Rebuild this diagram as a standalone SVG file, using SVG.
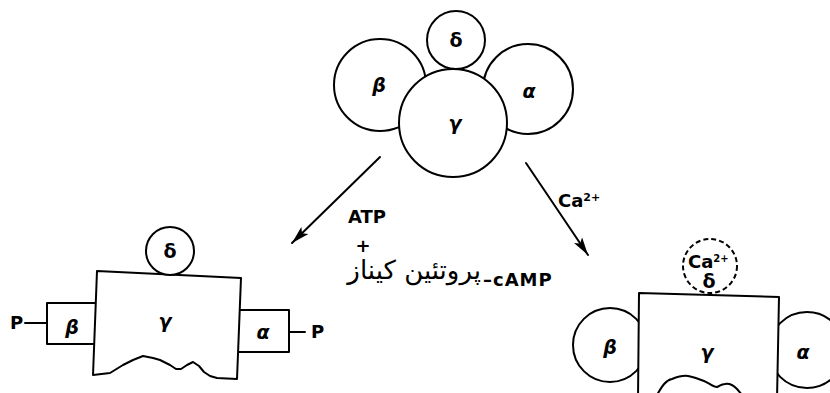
<svg xmlns="http://www.w3.org/2000/svg" width="830" height="393" viewBox="0 0 830 393">
<style>
.s{fill:#fff;stroke:#000;stroke-width:2;stroke-linejoin:round}
.w{fill:none;stroke:#000;stroke-width:2;stroke-linejoin:round;stroke-linecap:round}
.g{font-family:"DejaVu Sans",sans-serif;font-size:19px;font-weight:bold;fill:#000;text-anchor:middle}
.i{font-style:italic}
.t{font-family:"DejaVu Sans",sans-serif;font-size:18px;font-weight:bold;fill:#000}
.fa{font-family:"DejaVu Sans",sans-serif;font-size:26px;fill:#000}
</style>
<defs>
<marker id="ah" viewBox="0 0 18 10" refX="18" refY="5" markerWidth="18" markerHeight="10" markerUnits="userSpaceOnUse" orient="auto">
<path d="M0,0 L18,5 L0,10 L4,5 Z" fill="#000"/>
</marker>
</defs>

<g id="native-enzyme">
<circle class="s" cx="380" cy="85" r="46"/>
<circle class="s" cx="528" cy="89" r="45"/>
<circle class="s" cx="456" cy="40" r="29"/>
<circle class="s" cx="453" cy="123" r="54"/>
<text class="g" x="456" y="47">δ</text>
<text class="g i" x="379" y="92">β</text>
<text class="g i" x="529" y="98">α</text>
<text class="g i" x="455" y="130">γ</text>
</g>

<g id="connectors">
<line class="w" x1="380" y1="157" x2="292" y2="243" marker-end="url(#ah)"/>
<line class="w" x1="526" y1="163" x2="588" y2="255" marker-end="url(#ah)"/>
</g>

<g id="label-atp">
<text class="t" x="367" y="223" text-anchor="middle">ATP</text>
<text class="t" x="363" y="252" text-anchor="middle">+</text>
<text class="fa" x="481" y="279" text-anchor="end">پروتئین کیناز</text>
<text class="t" x="483" y="286" letter-spacing="1">–cAMP</text>
</g>

<g id="label-ca">
<text class="t" x="558" y="207" font-size="17">Ca<tspan dy="-6" font-size="11">2+</tspan></text>
</g>

<g id="phosphorylated-enzyme">
<rect class="s" x="47" y="303" width="50" height="41"/>
<rect class="s" x="238" y="310" width="51" height="42"/>
<path class="s" d="M97,271 L241,278 L237,379 L217,378 L210,376 L204,372 L199,366 L193,362 L187,365 L181,369 L176,369 L170,365 L160,360 L153,358 L143,356 L133,360 L123,365 L110,373 L93,375 Z"/>
<circle class="s" cx="170" cy="251" r="24"/>
<line class="w" x1="25" y1="323" x2="47" y2="323"/>
<line class="w" x1="289" y1="332" x2="305" y2="332"/>
<text class="t" x="10" y="329">P</text>
<text class="t" x="311" y="338">P</text>
<text class="g i" x="72" y="334">β</text>
<text class="g i" x="263" y="339">α</text>
<text class="g i" x="165" y="328">γ</text>
<text class="g" x="170" y="258">δ</text>
</g>

<g id="calcium-enzyme">
<circle class="s" cx="610" cy="345" r="37"/>
<circle class="s" cx="807" cy="350" r="38"/>
<path class="s" d="M639,293 L779,297 L777,400 L638,400 Z"/>
<path class="w" d="M657,395 C662,386 666,380 672,379 C677,377 682,375 688,376 C694,377 699,379 704,381 C709,383 713,387 717,387 C720,386 721,384 725,384 C730,383 733,385 737,389 L743,396"/>
<circle cx="710" cy="266" r="27" fill="none" stroke="#000" stroke-width="2" stroke-dasharray="5,3"/>
<text class="t" x="688" y="268" font-size="16">Ca<tspan dy="-6" font-size="10">2+</tspan></text>
<text class="g" x="709" y="288">δ</text>
<text class="g i" x="610" y="354">β</text>
<text class="g i" x="707" y="359">γ</text>
<text class="g i" x="803" y="359">α</text>
</g>
</svg>
